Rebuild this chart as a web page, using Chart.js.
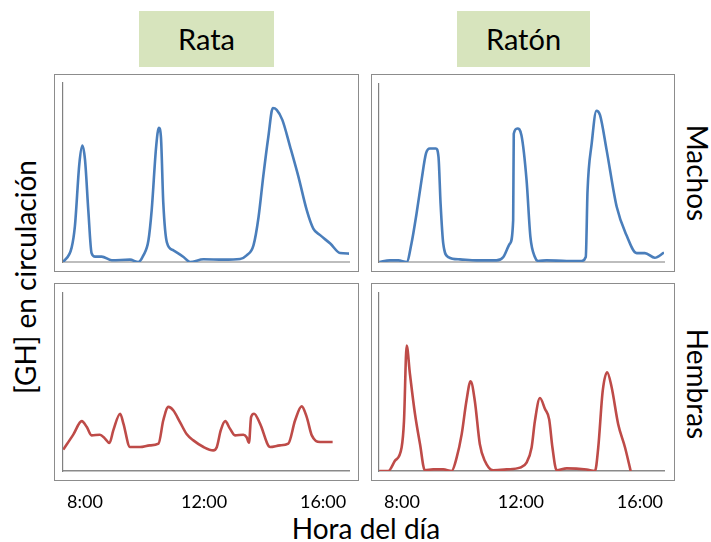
<!DOCTYPE html>
<html>
<head>
<meta charset="utf-8">
<script src="https://cdn.jsdelivr.net/npm/chart.js@4"></script>
<style>
  body { margin: 0; background: #fff; }
  #wrap { position: relative; width: 711px; height: 542px; font-family: Lato, sans-serif; color: #000; }
  canvas { position: absolute; }
  .tag { position: absolute; background: #d7e4bd; text-align: center; font-size: 29px; line-height: 56px; height: 56px; top: 11px; }
  .lbl { position: absolute; white-space: nowrap; font-size: 28px; transform: translate(-50%, -50%); }
</style>
</head>
<body>
<div id="wrap">
  <div class="tag" style="left:139px; width:135px;">Rata</div>
  <div class="tag" style="left:457px; width:133px;">Ratón</div>
  <div class="lbl" style="left:698px; top:173px; transform: translate(-50%,-50%) rotate(90deg);">Machos</div>
  <div class="lbl" style="left:698px; top:384px; transform: translate(-50%,-50%) rotate(90deg);">Hembras</div>
  <div class="lbl" style="left:25px; top:277px; transform: translate(-50%,-50%) rotate(-90deg);">[GH] en circulación</div>
  <div class="lbl" style="left:366px; top:528px;">Hora del día</div>

  <canvas id="ratMale" width="305" height="198" style="left:54px; top:74px;"></canvas>
  <canvas id="mouseMale" width="304" height="198" style="left:371px; top:74px;"></canvas>
  <canvas id="ratFemale" width="305" height="232" style="left:54px; top:283px;"></canvas>
  <canvas id="mouseFemale" width="304" height="232" style="left:371px; top:283px;"></canvas>
</div>
<script>
// hours of day (decimal) and relative GH level (0-100 of axis height)
const ratMaleHours = [7.27,7.55,7.66,7.81,7.91,8.0,8.11,8.22,8.34,8.56,8.9,9.51,9.79,9.96,10.13,10.24,10.39,10.48,10.55,10.63,10.75,10.97,11.31,11.53,11.98,12.65,13.21,13.43,13.66,13.83,13.99,14.16,14.31,14.44,14.63,14.89,15.17,15.45,15.67,15.9,16.24,16.57,16.87];
const ratMaleGH = [0,8,20,55,65,57,29,5,3,3,1,1.3,0,3.7,12,29,64.5,75,70,33,11,6.5,2.8,0,1.5,1.3,1.7,3.7,9.3,25,48,70,86,85,79.4,64.5,47.7,29,18.7,15,10.3,5,4.7];

const mouseMaleHours = [7.24,7.6,7.88,8.16,8.32,8.49,8.66,8.81,8.94,9.14,9.23,9.3,9.39,9.56,9.95,10.51,11.18,11.41,11.63,11.74,11.76,11.88,12.02,12.19,12.32,12.47,12.58,12.86,13.54,14.04,14.18,14.24,14.38,14.54,14.66,14.88,15.22,15.55,15.89,16.17,16.5,16.81];
const mouseMaleGH = [0,0.9,0.9,0,10.3,27,46,61,63.8,63.8,59,32.8,10.3,2.8,1.5,0.9,0.9,2.8,10.3,23.5,72,75,71,46,14,2.8,0.6,0.9,0.6,0.6,2.8,40,66.6,85,82.5,63,31,15,5,5,2.4,5.3];

const ratFemaleHours = [7.27,7.61,7.89,8.06,8.22,8.5,8.67,8.82,8.95,9.18,9.29,9.51,9.85,10.18,10.47,10.63,10.8,10.97,11.19,11.42,11.64,11.98,12.31,12.43,12.56,12.71,12.87,13.04,13.32,13.43,13.51,13.58,13.68,13.88,14.22,14.55,14.83,15.06,15.28,15.45,15.62,15.9,16.32];
const ratFemaleGH = [12,20.6,28,24.7,20,20.4,18.2,15.7,22.8,32.2,26.6,13.5,13.5,14.4,15.4,28.5,36,34,27.5,20.6,17.2,13.5,11.6,13.5,22.8,28,23.8,20,20.4,19,15.9,30.3,32.2,26.6,13.5,14.4,15.4,28.5,36.3,30.3,20,16.3,16.3];

const mouseFemaleHours = [7.24,7.54,7.76,7.99,8.07,8.16,8.27,8.44,8.61,8.77,9.05,9.39,9.67,9.84,10.01,10.17,10.31,10.45,10.62,10.79,11.07,11.52,11.97,12.19,12.36,12.47,12.64,12.81,12.95,13.06,13.2,13.54,14.21,14.49,14.6,14.75,14.9,15.05,15.27,15.5,15.69];
const mouseFemaleGH = [0,0,5.6,13.2,28,70.5,54.5,32,15,0.4,0.9,0.9,0,7.5,20.7,39.5,50.4,39.5,15,5.6,0.4,0.9,1.9,4.7,13.2,28,41,34.8,29,13.2,0.4,1.5,0.8,0,13.2,45,55.5,47,26.3,13.2,0];

const tickHours = [8, 12, 16];
const tickLabels = ['8:00', '12:00', '16:00'];

// draws the grey frame round each panel
const panelBox = {
  id: 'panelBox',
  beforeDraw(chart, args, opts) {
    const c = chart.ctx;
    c.save();
    c.strokeStyle = '#8c8c8c';
    c.lineWidth = 1;
    c.strokeRect(0.5, 0.5, chart.width - 1, opts.h - 1);
    c.restore();
  }
};

function makePanel(id, hours, gh, color, o) {
  new Chart(document.getElementById(id), {
    type: 'line',
    data: {
      datasets: [{
        data: hours.map((h, i) => ({ x: h, y: gh[i] })),
        borderColor: color,
        borderWidth: 2.6,
        pointRadius: 0,
        fill: false,
        cubicInterpolationMode: 'monotone'
      }]
    },
    options: {
      responsive: false,
      animation: false,
      layout: { padding: o.pad },
      plugins: { legend: { display: false }, tooltip: { enabled: false }, panelBox: { h: 198 } },
      scales: {
        x: {
          type: 'linear',
          min: o.min,
          max: o.max,
          afterBuildTicks: s => { s.ticks = tickHours.map(v => ({ value: v })); },
          afterFit: s => { s.height = o.axisH; s.paddingLeft = 0; s.paddingRight = 0; },
          ticks: {
            display: o.ticks,
            autoSkip: false,
            maxRotation: 0,
            padding: 20,
            color: '#000',
            font: { family: 'Lato', size: 18 },
            callback: (v, i) => tickLabels[i]
          },
          grid: { display: false, drawTicks: false },
          border: { color: o.xColor, width: o.xWidth }
        },
        y: {
          min: 0,
          max: 100,
          afterFit: s => { s.width = 0; },
          ticks: { display: false },
          grid: { display: false, drawTicks: false },
          border: { color: '#808080', width: 1.2 }
        }
      }
    },
    plugins: [panelBox]
  });
}

makePanel('ratMale', ratMaleHours, ratMaleGH, '#4a7ebb',
  { min: 7.26, max: 16.87, pad: { left: 9, top: 9, right: 10, bottom: 10 }, axisH: 0, ticks: false, xColor: '#bdbdbd', xWidth: 2 });
makePanel('mouseMale', mouseMaleHours, mouseMaleGH, '#4a7ebb',
  { min: 7.23, max: 16.81, pad: { left: 8, top: 10, right: 11, bottom: 10 }, axisH: 0, ticks: false, xColor: '#bdbdbd', xWidth: 2 });
makePanel('ratFemale', ratFemaleHours, ratFemaleGH, '#be4b48',
  { min: 7.26, max: 16.87, pad: { left: 9, top: 10, right: 10, bottom: 0 }, axisH: 44, ticks: true, xColor: '#8a8a8a', xWidth: 1.5 });
makePanel('mouseFemale', mouseFemaleHours, mouseFemaleGH, '#be4b48',
  { min: 7.23, max: 16.81, pad: { left: 8, top: 10, right: 11, bottom: 0 }, axisH: 44, ticks: true, xColor: '#8a8a8a', xWidth: 1.5 });
</script>
</body>
</html>
